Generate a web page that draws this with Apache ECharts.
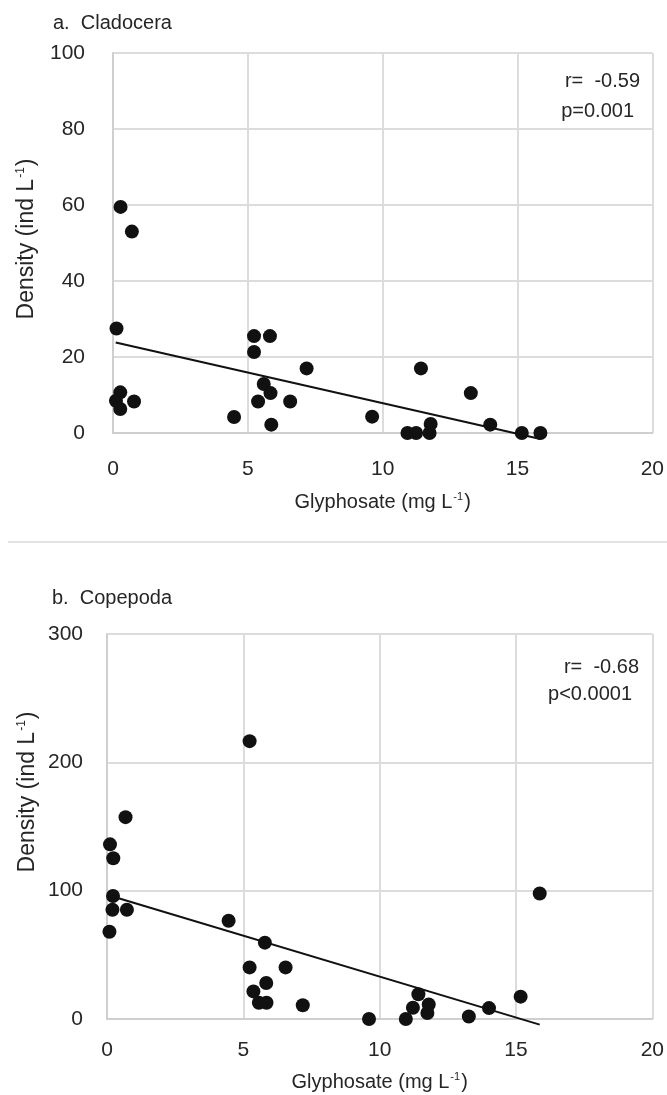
<!DOCTYPE html>
<html>
<head>
<meta charset="utf-8">
<script src="https://cdn.jsdelivr.net/npm/echarts@6/dist/echarts.min.js"></script>
<style>
  html, body { margin: 0; padding: 0; background: #fff; }
  #chart { width: 667px; height: 1095px; }
</style>
</head>
<body>
<div id="chart"></div>
<script>
// a. Cladocera (Glyphosate mg/L, Density ind/L)
var cladX = [0.28, 0.70, 0.13, 0.27, 0.11, 0.27, 0.78, 4.49, 5.23, 5.23, 5.82, 5.59, 5.38, 5.84, 5.87, 6.57, 7.18, 9.61, 10.92, 11.24, 11.42, 11.78, 11.74, 13.27, 13.99, 15.16, 15.85];
var cladY = [59.5, 53.0, 27.5, 10.7, 8.5, 6.3, 8.3, 4.2, 25.5, 21.3, 25.5, 12.9, 8.3, 10.5, 2.2, 8.3, 17.0, 4.3, 0, 0, 17.0, 2.4, 0, 10.5, 2.2, 0, 0];
var cladTrend = [[0.1, 23.8], [15.85, -1.6]];

// b. Copepoda
var copX = [5.23, 0.68, 0.11, 0.23, 0.22, 0.20, 0.73, 0.09, 4.46, 5.79, 5.23, 6.55, 5.84, 5.37, 5.57, 5.85, 7.18, 9.61, 10.96, 11.22, 11.42, 11.80, 11.75, 13.27, 14.01, 15.17, 15.87];
var copY = [216.5, 157.3, 136.1, 125.3, 95.9, 85.1, 85.1, 68.0, 76.6, 59.5, 40.2, 40.2, 28.1, 21.5, 12.7, 12.7, 10.7, 0, 0, 8.8, 19.3, 11.3, 4.7, 1.9, 8.5, 17.4, 97.8];
var copTrend = [[0.15, 95.9], [15.87, -4.4]];

var xTicks = [0, 5, 10, 15, 20];
var cladYTicks = [0, 20, 40, 60, 80, 100];
var copYTicks = [0, 100, 200, 300];

var FONT = "'Liberation Sans', Arial, sans-serif";
var TXT = '#262626';

function pairs(xs, ys) {
    var out = [];
    for (var i = 0; i < xs.length; i++) out.push([xs[i], ys[i]]);
    return out;
}

var supRich = {
    n: {fontSize: 20, fontFamily: FONT, color: TXT, lineHeight: 22},
    sup: {fontSize: 11, fontFamily: FONT, color: TXT, lineHeight: 22, verticalAlign: 'top', padding: [0, 1, 8, 1]}
};
// y轴名称竖排时略大
var supRichY = {
    n: {fontSize: 23, fontFamily: FONT, fill: TXT, lineHeight: 25},
    sup: {fontSize: 12, fontFamily: FONT, fill: TXT, lineHeight: 25, verticalAlign: 'top', padding: [0, 1, 10, 1]}
};

function xAxisOpt(gridIndex, gap, margin) {
    return {
        type: 'value', gridIndex: gridIndex,
        min: xTicks[0], max: xTicks[xTicks.length - 1], interval: 5,
        name: '{n|Glyphosate (mg L}{sup|-1}{n|)}',
        nameLocation: 'middle', nameGap: gap,
        nameTextStyle: {rich: supRich},
        axisLine: {show: true, lineStyle: {color: '#cfcfcf', width: 2}},
        axisTick: {show: false},
        axisLabel: {fontSize: 21, fontFamily: FONT, color: TXT, margin: margin},
        splitLine: {show: true, lineStyle: {color: '#dcdcdc', width: 2}}
    };
}

function yAxisOpt(gridIndex, ticks, margin) {
    return {
        type: 'value', gridIndex: gridIndex,
        min: ticks[0], max: ticks[ticks.length - 1], interval: ticks[1] - ticks[0],
        axisLine: {show: true, lineStyle: {color: '#cfcfcf', width: 2}},
        axisTick: {show: false},
        axisLabel: {fontSize: 21, fontFamily: FONT, color: TXT, margin: margin},
        splitLine: {show: true, lineStyle: {color: '#dcdcdc', width: 2}}
    };
}

function scatterOpt(idx, data) {
    return {
        type: 'scatter', xAxisIndex: idx, yAxisIndex: idx,
        data: data, symbolSize: 14,
        itemStyle: {color: '#111', opacity: 1},
        clip: false
    };
}

function trendOpt(idx, data) {
    return {
        type: 'line', xAxisIndex: idx, yAxisIndex: idx,
        data: data, showSymbol: false, clip: false,
        lineStyle: {color: '#111', width: 2},
        z: 3
    };
}

function yName(cx, cy) {
    return {
        type: 'text', x: cx, y: cy, rotation: Math.PI / 2,
        style: {text: '{n|Density (ind L}{sup|-1}{n|)}', rich: supRichY, align: 'center', verticalAlign: 'middle'}
    };
}

var chart = echarts.init(document.getElementById('chart'));
var option = {
    backgroundColor: '#fff',
    animation: false,
    title: [
        {text: 'a.  Cladocera', left: 48, top: 8, textStyle: {fontSize: 20, fontWeight: 'normal', fontFamily: FONT, color: TXT}},
        {text: 'b.  Copepoda', left: 47, top: 583, textStyle: {fontSize: 20, fontWeight: 'normal', fontFamily: FONT, color: TXT}}
    ],
    grid: [
        {left: 113, top: 53, width: 543, height: 380},
        {left: 107, top: 634, width: 549, height: 385}
    ],
    xAxis: [xAxisOpt(0, 58, 26), xAxisOpt(1, 52, 21)],
    yAxis: [yAxisOpt(0, cladYTicks, 28), yAxisOpt(1, copYTicks, 24)],
    series: [
        trendOpt(0, cladTrend),
        scatterOpt(0, pairs(cladX, cladY)),
        trendOpt(1, copTrend),
        scatterOpt(1, pairs(copX, copY))
    ],
    graphic: [
        {type: 'line', shape: {x1: 8, y1: 542, x2: 667, y2: 542}, style: {stroke: '#e3e3e3', lineWidth: 2}},
        yName(27, 239),
        yName(28, 792),
        {type: 'text', right: 27, top: 71, style: {text: 'r=  -0.59', font: '20px ' + FONT, fill: TXT, textAlign: 'right'}},
        {type: 'text', right: 33, top: 101, style: {text: 'p=0.001', font: '20px ' + FONT, fill: TXT, textAlign: 'right'}},
        {type: 'text', right: 28, top: 657, style: {text: 'r=  -0.68', font: '20px ' + FONT, fill: TXT, textAlign: 'right'}},
        {type: 'text', right: 35, top: 684, style: {text: 'p<0.0001', font: '20px ' + FONT, fill: TXT, textAlign: 'right'}}
    ]
};
chart.setOption(option);

window.addEventListener('resize', function () {
    chart.resize();
});
</script>
</body>
</html>
